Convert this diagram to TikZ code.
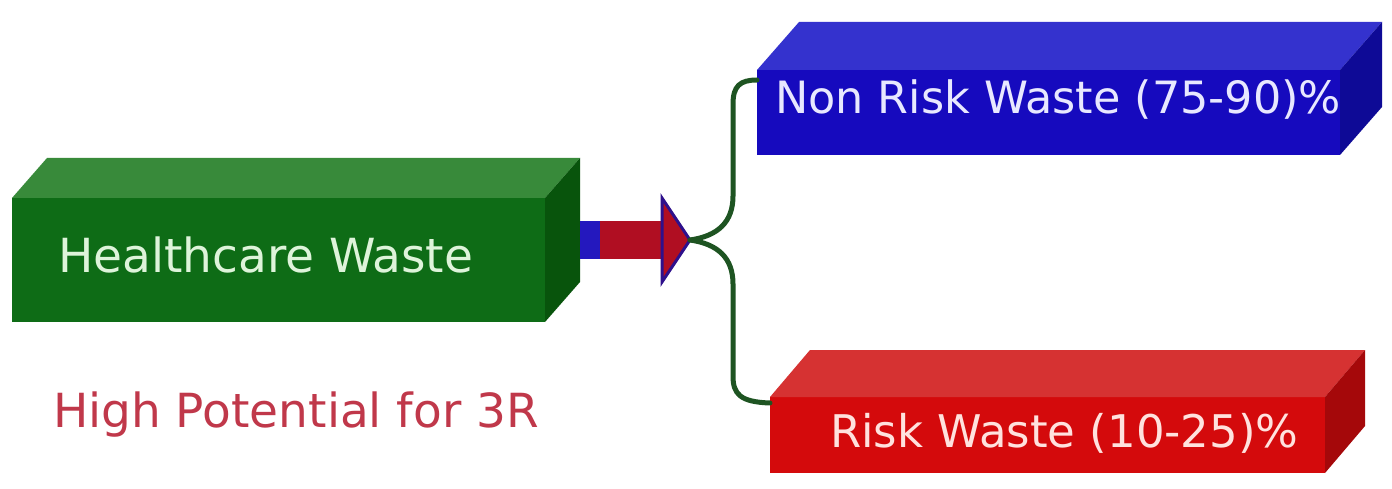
\documentclass[tikz,border=0pt]{standalone}
\usepackage{fontspec}
\setmainfont{DejaVu Sans}
\usetikzlibrary{calc}
\definecolor{gfront}{RGB}{14,108,22}
\definecolor{gtop}{RGB}{56,138,58}
\definecolor{gside}{RGB}{8,84,12}
\definecolor{bfront}{RGB}{22,10,190}
\definecolor{btop}{RGB}{52,50,206}
\definecolor{bside}{RGB}{14,10,150}
\definecolor{rfront}{RGB}{212,10,12}
\definecolor{rtop}{RGB}{214,50,50}
\definecolor{rside}{RGB}{165,8,10}
\definecolor{gtext}{RGB}{222,244,218}
\definecolor{btext}{RGB}{232,232,255}
\definecolor{rtext}{RGB}{255,226,222}
\definecolor{hptext}{RGB}{192,56,74}
\definecolor{bracec}{RGB}{30,84,34}
\definecolor{arrred}{RGB}{176,14,34}
\definecolor{arrblue}{RGB}{36,24,190}
\definecolor{arredge}{RGB}{46,16,140}
\tikzset{
  box/.style={inner sep=0pt, outer sep=0pt},
  bracestyle/.style={draw=bracec, line width=5pt, line cap=round},
}
\begin{document}
\begin{tikzpicture}[x=1pt,y=-1pt]
\useasboundingbox (0,0) rectangle (1392,489);
\fill[white] (0,0) rectangle (1392,489);
% Green box
\node[box, fill=gfront, minimum width=533pt, minimum height=124pt] (hw) at (278.5,260) {};
\fill[gtop] (hw.north west) -- ++(35,-40) -- ($(hw.north east)+(35,-40)$) -- (hw.north east) -- cycle;
\fill[gside] (hw.north east) -- ++(35,-40) -- ($(hw.south east)+(35,-40)$) -- (hw.south east) -- cycle;
\node[box, text=gtext, anchor=west, font=\fontsize{47}{56}\selectfont] (hwt) at (58,255) {Healthcare Waste};
% Blue box
\node[box, fill=bfront, minimum width=583pt, minimum height=85pt] (nr) at (1048.5,112.5) {};
\fill[btop] (nr.north west) -- ++(42,-48) -- ($(nr.north east)+(42,-48)$) -- (nr.north east) -- cycle;
\fill[bside] (nr.north east) -- ++(42,-48) -- ($(nr.south east)+(42,-48)$) -- (nr.south east) -- cycle;
\node[box, text=btext, anchor=west, font=\fontsize{44.5}{53}\selectfont] (nrt) at (775,100) {Non Risk Waste (75-90)\%};
% Red box
\node[box, fill=rfront, minimum width=555pt, minimum height=76pt] (rw) at (1047.5,435) {};
\fill[rtop] (rw.north west) -- ++(40,-47) -- ($(rw.north east)+(40,-47)$) -- (rw.north east) -- cycle;
\fill[rside] (rw.north east) -- ++(40,-47) -- ($(rw.south east)+(40,-47)$) -- (rw.south east) -- cycle;
\node[box, text=rtext, anchor=west, font=\fontsize{45}{54}\selectfont] (rwt) at (830,433) {Risk Waste (10-25)\%};
% Label
\node[box, text=hptext, anchor=west, font=\fontsize{47}{56}\selectfont] (hp) at (53,415) {High Potential for 3R};
% Arrow
\coordinate (tail) at (580,240);
\coordinate (tip) at (690,240);
\fill[arrblue] ($(tail)+(0,-19)$) rectangle ($(tail)+(20,19)$);
\fill[arrred] ($(tail)+(20,-19)$) rectangle ($(tail)+(84,19)$);
\filldraw[fill=arrred, draw=arredge, line width=3pt, line join=miter]
  ($(tail)+(82,-42)$) -- (tip) -- ($(tail)+(82,42)$) -- cycle;
% Brace
\draw[bracestyle] (tip) .. controls (718,236) and (733,222) .. (733,196)
  -- (733,104) .. controls (733,86) and (740,80) .. ($(nr.north west)+(0,10)$);
\draw[bracestyle] (tip) .. controls (718,244) and (733,258) .. (733,284)
  -- (733,376) .. controls (733,394) and (740,402) .. ($(rw.north west)+(0,6)$);
\end{tikzpicture}
\end{document}
